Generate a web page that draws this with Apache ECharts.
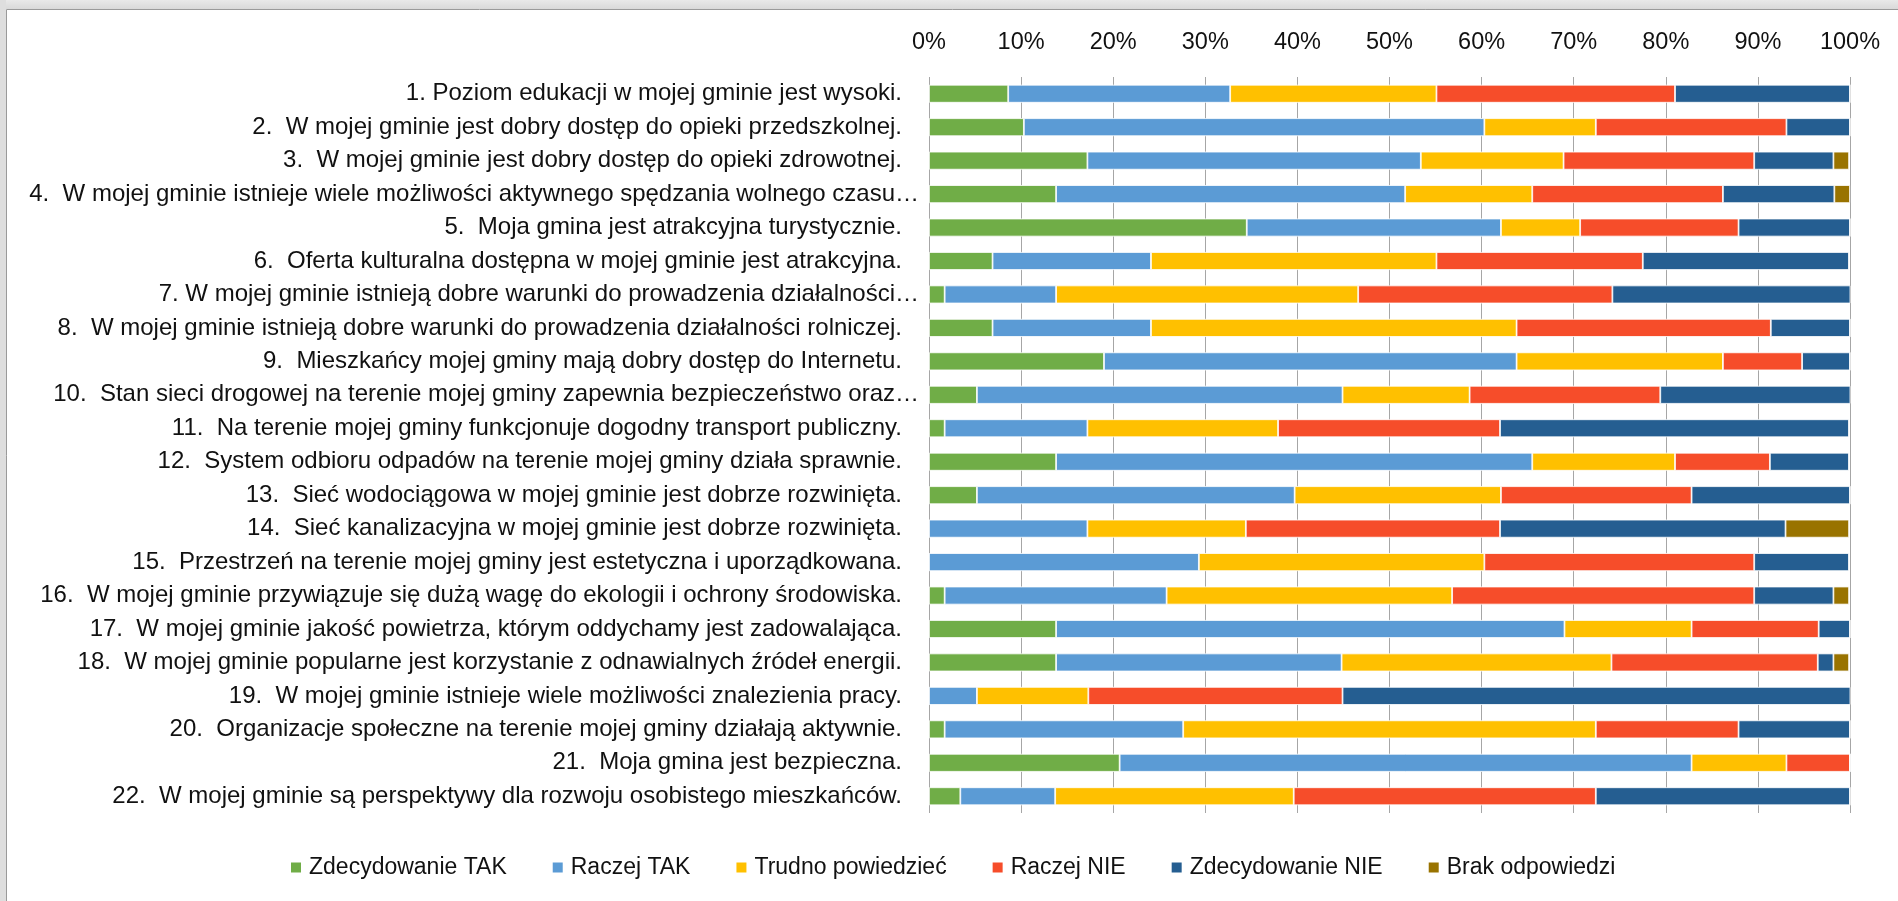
<!DOCTYPE html>
<html>
<head>
<meta charset="utf-8">
<script src="https://cdn.jsdelivr.net/npm/echarts@6/dist/echarts.min.js"></script>
<style>
html,body{margin:0;padding:0;background:#fff;}
#chart{width:1898px;height:901px;}
</style>
</head>
<body>
<div id="chart"></div>
<script>
const categories = [
  "1. Poziom edukacji w mojej gminie jest wysoki.",
  "2.  W mojej gminie jest dobry dostęp do opieki przedszkolnej.",
  "3.  W mojej gminie jest dobry dostęp do opieki zdrowotnej.",
  "4.  W mojej gminie istnieje wiele możliwości aktywnego spędzania wolnego czasu…",
  "5.  Moja gmina jest atrakcyjna turystycznie.",
  "6.  Oferta kulturalna dostępna w mojej gminie jest atrakcyjna.",
  "7. W mojej gminie istnieją dobre warunki do prowadzenia działalności…",
  "8.  W mojej gminie istnieją dobre warunki do prowadzenia działalności rolniczej.",
  "9.  Mieszkańcy mojej gminy mają dobry dostęp do Internetu.",
  "10.  Stan sieci drogowej na terenie mojej gminy zapewnia bezpieczeństwo oraz…",
  "11.  Na terenie mojej gminy funkcjonuje dogodny transport publiczny.",
  "12.  System odbioru odpadów na terenie mojej gminy działa sprawnie.",
  "13.  Sieć wodociągowa w mojej gminie jest dobrze rozwinięta.",
  "14.  Sieć kanalizacyjna w mojej gminie jest dobrze rozwinięta.",
  "15.  Przestrzeń na terenie mojej gminy jest estetyczna i uporządkowana.",
  "16.  W mojej gminie przywiązuje się dużą wagę do ekologii i ochrony środowiska.",
  "17.  W mojej gminie jakość powietrza, którym oddychamy jest zadowalająca.",
  "18.  W mojej gminie popularne jest korzystanie z odnawialnych źródeł energii.",
  "19.  W mojej gminie istnieje wiele możliwości znalezienia pracy.",
  "20.  Organizacje społeczne na terenie mojej gminy działają aktywnie.",
  "21.  Moja gmina jest bezpieczna.",
  "22.  W mojej gminie są perspektywy dla rozwoju osobistego mieszkańców."
];

const seriesNames = ["Zdecydowanie TAK","Raczej TAK","Trudno powiedzieć","Raczej NIE","Zdecydowanie NIE","Brak odpowiedzi"];

const zdecydowanieTak = [8.6,10.3,17.2,13.8,34.5,6.9,1.7,6.9,19.0,5.2,1.7,13.8,5.2,0,0,1.7,13.8,13.8,0,1.7,20.7,3.4];
const raczejTak       = [24.1,50.0,36.2,37.9,27.6,17.2,12.1,17.2,44.8,39.7,15.5,51.7,34.5,17.2,29.3,24.1,55.2,31.0,5.2,25.9,62.1,10.3];
const trudnoPowiedziec= [22.4,12.1,15.5,13.8,8.6,31.0,32.8,39.7,22.4,13.8,20.7,15.5,22.4,17.2,31.0,31.0,13.8,29.3,12.1,44.8,10.3,25.9];
const raczejNie       = [25.9,20.7,20.7,20.7,17.2,22.4,27.6,27.6,8.6,20.7,24.1,10.3,20.7,27.6,29.3,32.8,13.8,22.4,27.6,15.5,6.9,32.8];
const zdecydowanieNie = [19.0,6.9,8.6,12.1,12.1,22.4,25.9,8.6,5.2,20.7,37.9,8.6,17.2,31.0,10.3,8.6,3.4,1.7,55.2,12.1,0,27.6];
const brakOdpowiedzi  = [0,0,1.7,1.7,0,0,0,0,0,0,0,0,0,6.9,0,1.7,0,1.7,0,0,0,0];

const xTicks = [0,10,20,30,40,50,60,70,80,90,100];

const seriesData = [zdecydowanieTak, raczejTak, trudnoPowiedziec, raczejNie, zdecydowanieNie, brakOdpowiedzi];
const colors = ["#70AD47","#5B9BD5","#FFC000","#F64D2A","#255E91","#997300"];

const FONT = "'Liberation Sans', Arial, sans-serif";

const chart = echarts.init(document.getElementById('chart'), null, {renderer:'canvas'});
chart.setOption({
  backgroundColor: '#ffffff',
  animation: false,
  color: colors,
  textStyle: {fontFamily: FONT},
  graphic: [
    {type:'rect', silent:true, z:100, shape:{x:0,y:0,width:1898,height:9},
     style:{fill:new echarts.graphic.LinearGradient(0,0,0,1,[{offset:0,color:'#e9e9e9'},{offset:1,color:'#d9d9d9'}])}},
    {type:'rect', silent:true, z:100, shape:{x:0,y:0,width:6,height:901},
     style:{fill:'#dedede'}},
    {type:'line', silent:true, z:101, shape:{x1:6.5,y1:9.5,x2:1898,y2:9.5}, style:{stroke:'#9a9a9a',lineWidth:1}},
    {type:'line', silent:true, z:101, shape:{x1:6.5,y1:9.5,x2:6.5,y2:901}, style:{stroke:'#9a9a9a',lineWidth:1}}
  ],
  grid: {left: 929, right: 48, top: 77, bottom: 88, containLabel: false},
  legend: {
    data: seriesNames,
    left: 284,
    top: 851,
    itemWidth: 12,
    itemHeight: 12,
    itemGap: 44,
    icon: 'rect',
    textStyle: {fontSize: 23, color: '#111', fontFamily: FONT, padding:[0,0,0,2]}
  },
  xAxis: {
    type: 'value',
    position: 'top',
    min: xTicks[0],
    max: xTicks[xTicks.length-1],
    interval: 10,
    axisLine: {show: false},
    axisTick: {show: false},
    splitLine: {show: true, lineStyle: {color: '#a6a6a6', width: 1}},
    axisLabel: {
      formatter: '{value}%',
      fontSize: 23.5,
      color: '#111',
      margin: 22,
      fontFamily: FONT
    }
  },
  yAxis: {
    type: 'category',
    inverse: true,
    data: categories,
    axisLine: {show: false},
    axisTick: {show: false},
    axisLabel: {
      margin: 10,
      fontSize: 24,
      color: '#111',
      fontFamily: FONT,
      formatter: function (v) {
        return v.endsWith('…') ? '{t|' + v + '}' : '{n|' + v + '}';
      },
      rich: {
        t: {fontSize: 24, color: '#111', fontFamily: FONT},
        n: {fontSize: 24, color: '#111', fontFamily: FONT, padding: [0, 17, 0, 0]}
      }
    }
  },
  series: seriesNames.map(function (name, i) {
    return {
      name: name,
      type: 'bar',
      stack: 'total',
      barWidth: 18,
      data: seriesData[i],
      itemStyle: {color: colors[i], borderColor: '#ffffff', borderWidth: 0.8},
      emphasis: {disabled: true}
    };
  })
});
</script>
</body>
</html>
